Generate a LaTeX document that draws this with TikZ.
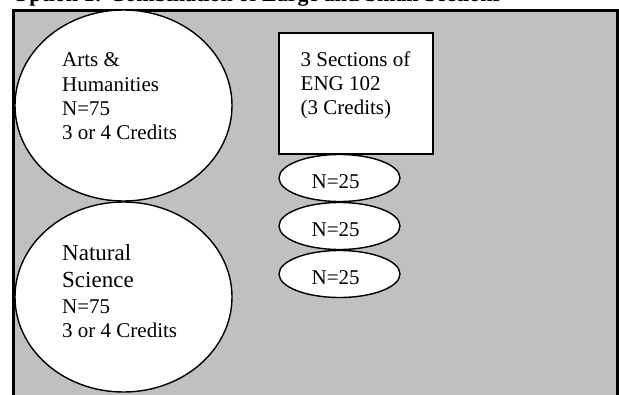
\documentclass[tikz,border=0pt]{standalone}
\usepackage{fontspec}
\setmainfont{Liberation Serif}
\usetikzlibrary{shapes.geometric}
\definecolor{panelgrey}{HTML}{C0C0C0}
\tikzset{
  bigoval/.style={ellipse, draw=black, line width=1.4pt, fill=white, minimum width=217pt, minimum height=191pt, inner sep=0pt},
  smalloval/.style={ellipse, draw=black, line width=1.4pt, fill=white, minimum width=121pt, minimum height=47pt, inner sep=0pt},
  secbox/.style={rectangle, draw=black, line width=1.6pt, fill=white, minimum width=154pt, minimum height=121pt, inner sep=0pt},
  txt/.style={anchor=base west, inner sep=0pt, font=\fontsize{21}{25}\selectfont},
  bigtxt/.style={anchor=base west, inner sep=0pt, font=\fontsize{23}{27}\selectfont},
  titletxt/.style={anchor=base west, inner sep=0pt, font=\fontsize{22}{26}\selectfont\bfseries}
}
\begin{document}
\begin{tikzpicture}[x=1pt,y=-1pt]
\useasboundingbox (0,0) rectangle (619,394);
\clip (0,0) rectangle (619,394);
\fill[white] (0,0) rectangle (619,394);
\node[titletxt] (title) at (12,1) {Option 1: Combination of Large and Small Sections};
\draw[line width=3pt, fill=panelgrey] (13.5,10.5) rectangle (617.5,430);
% big ovals
\node[bigoval] (arts) at (123.5,105.5) {};
\node[bigoval, minimum height=190pt] (nat) at (123.5,297) {};
% box
\node[secbox] (eng) at (356,93.5) {};
% small ovals
\node[smalloval] (s1) at (339.5,178) {};
\node[smalloval] (s2) at (339.5,226) {};
\node[smalloval] (s3) at (339.5,274) {};
% arts text
\node[txt] (a1) at (62,66) {Arts \&};
\node[txt] (a2) at (62,91) {Humanities};
\node[txt] (a3) at (62,115) {N=75};
\node[txt] (a4) at (62,139) {3 or 4 Credits};
% natural science text
\node[bigtxt] (n1) at (62,260) {Natural};
\node[bigtxt] (n2) at (62,287) {Science};
\node[txt] (n3) at (62,313) {N=75};
\node[txt] (n4) at (62,337) {3 or 4 Credits};
% box text
\node[txt] (e1) at (300.5,66) {3 Sections of};
\node[txt] (e2) at (300.5,90) {ENG 102};
\node[txt] (e3) at (300.5,114) {(3 Credits)};
% small oval text
\node[txt] (t1) at (311.5,188) {N=25};
\node[txt] (t2) at (311.5,236) {N=25};
\node[txt] (t3) at (311.5,284) {N=25};
\end{tikzpicture}
\end{document}
